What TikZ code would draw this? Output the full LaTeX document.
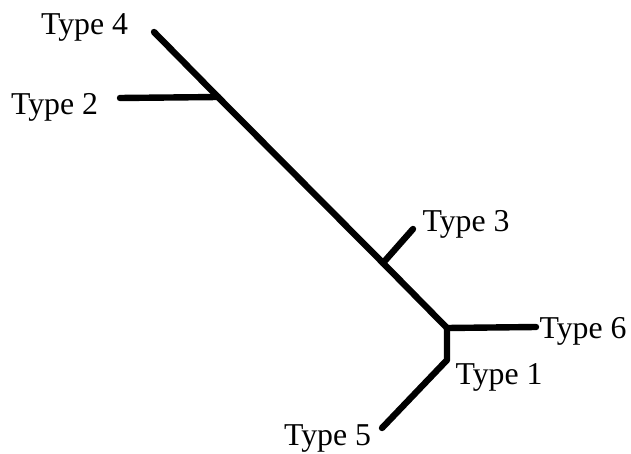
\documentclass[tikz,border=0pt]{standalone}
\usepackage{fontspec}
\setmainfont{Liberation Serif}
\begin{document}
\begin{tikzpicture}[x=0.5pt,y=-0.5pt,
  edge/.style={line width=3.2pt,line cap=round,line join=round},
  leaf/.style={inner sep=0pt,anchor=base,font=\fontsize{15.9}{19}\selectfont}]
\useasboundingbox (0,0) rectangle (631,454);
% tree points
\coordinate (t4) at (154,32);
\coordinate (j2) at (218,97);
\coordinate (t2) at (120,98);
\coordinate (j3) at (383,263);
\coordinate (t3) at (413,229);
\coordinate (j6) at (447,328);
\coordinate (t6) at (536,327);
\coordinate (j1) at (447,360);
\coordinate (t5) at (382,428);
% branches
\draw[edge] (t4) -- (j2) -- (j3) -- (j6) -- (j1) -- (t5);
\draw[edge] (j2) -- (t2);
\draw[edge] (j3) -- (t3);
\draw[edge] (j6) -- (t6);
% labels
\node[leaf] (l4) at (84.5,35) {Type 4};
\node[leaf] (l2) at (54.5,115) {Type 2};
\node[leaf] (l3) at (466,232) {Type 3};
\node[leaf] (l6) at (583,338) {Type 6};
\node[leaf] (l1) at (499,384) {Type 1};
\node[leaf] (l5) at (327.5,445) {Type 5};
\end{tikzpicture}
\end{document}
